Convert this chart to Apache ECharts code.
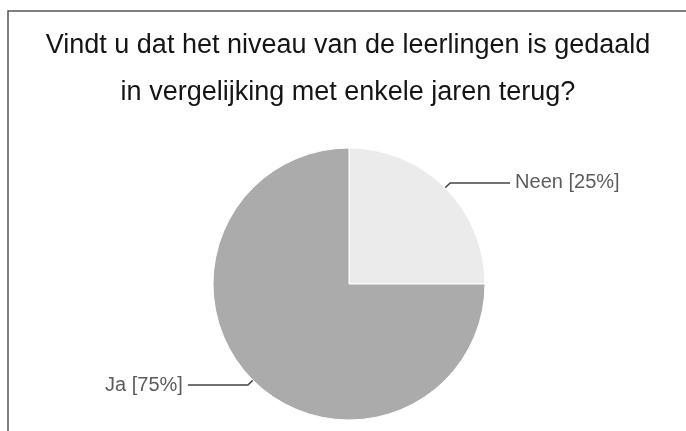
<!DOCTYPE html>
<html>
<head>
<meta charset="utf-8">
<script src="https://cdn.jsdelivr.net/npm/echarts@6/dist/echarts.min.js"></script>
<style>
  html, body { margin: 0; padding: 0; background: #fff; }
  #chart { width: 686px; height: 431px; }
</style>
</head>
<body>
<div id="chart"></div>
<script>
// Survey answers and their shares
const categories = ['Neen', 'Ja'];
const shares = [25, 75];
const sliceColors = ['#ebebeb', '#ababab'];
const titleLines = [
  'Vindt u dat het niveau van de leerlingen is gedaald',
  'in vergelijking met enkele jaren terug?'
];

const chart = echarts.init(document.getElementById('chart'), null, { renderer: 'canvas' });

chart.setOption({
  backgroundColor: '#ffffff',
  animation: false,
  textStyle: { fontFamily: '"Liberation Sans", Arial, Helvetica, sans-serif' },
  graphic: [{
    type: 'rect',
    shape: { x: 8, y: 11, width: 700, height: 440 },
    style: { fill: 'none', stroke: '#555', lineWidth: 1.5 },
    silent: true
  }],
  title: {
    text: titleLines.join('\n'),
    left: 343,
    top: 17,
    textAlign: 'center',
    textStyle: {
      fontSize: 27,
      fontWeight: 'normal',
      color: '#151515',
      lineHeight: 47,
      fontFamily: '"Liberation Sans", Arial, Helvetica, sans-serif'
    }
  },
  series: [{
    type: 'pie',
    center: [349, 284],
    radius: 136,
    startAngle: 90,
    clockwise: true,
    avoidLabelOverlap: false,
    data: categories.map((name, i) => ({
      name,
      value: shares[i],
      itemStyle: { color: sliceColors[i] }
    })),
    itemStyle: { borderColor: '#ffffff', borderWidth: 1 },
    label: {
      show: true,
      formatter: '{b} [{d}%]',
      fontSize: 20,
      color: '#5c5c5c',
      distanceToLabelLine: 5
    },
    labelLine: {
      show: true,
      length: 7,
      length2: 60,
      smooth: false,
      lineStyle: { color: '#444', width: 1.5 }
    },
    emphasis: { disabled: true }
  }]
});
</script>
</body>
</html>
